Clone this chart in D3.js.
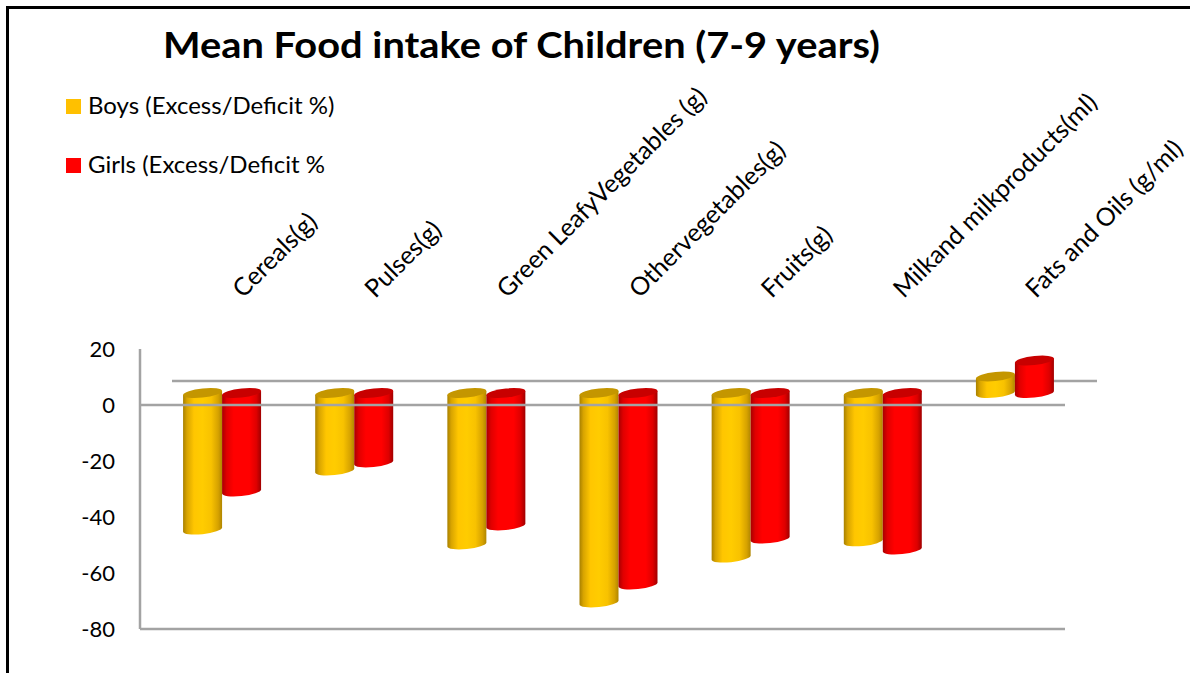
<!DOCTYPE html>
<html>
<head>
<meta charset="utf-8">
<script src="https://cdn.jsdelivr.net/npm/d3@7"></script>
<style>
  html, body { margin: 0; padding: 0; background: #fff; }
  svg { display: block; }
  text { font-family: Lato, "Open Sans", sans-serif; fill: #000; }
</style>
</head>
<body>
<svg id="chart" width="1190" height="673"></svg>
<script>
// Food groups shown along the category axis
const categories = [
  "Cereals(g)",
  "Pulses(g)",
  "Green LeafyVegetables (g)",
  "Othervegetables(g)",
  "Fruits(g)",
  "Milkand milkproducts(ml)",
  "Fats and Oils (g/ml)"
];
// Excess / deficit of intake, percent
const boysValues  = [-48.8, -27.7, -54.1, -74.8, -58.8, -53.0, 5.9];
const girlsValues = [-35.2, -24.8, -47.3, -68.4, -52.0, -55.9, 11.6];
const seriesNames = ["Boys (Excess/Deficit %)", "Girls (Excess/Deficit %"];
const yTickValues = [20, 0, -20, -40, -60, -80];
const titleText = "Mean Food intake of Children (7-9 years)";

const svg = d3.select("#chart");

// frame around the chart area
svg.append("rect")
  .attr("x", 7.5).attr("y", 7.5)
  .attr("width", 1300).attr("height", 800)
  .attr("fill", "none").attr("stroke", "#000").attr("stroke-width", 3);

// scales for the front plane of the 3D box
const plot = { left: 140, right: 1065, top: 349, bottom: 629 };
const y = d3.scaleLinear().domain([-80, 20]).range([plot.bottom, plot.top]);
const x = d3.scaleBand().domain(categories).range([plot.left, plot.right]);
const depth = { dx: 32, dy: -24 };       // offset from front plane to back wall
const mid = { dx: depth.dx / 2, dy: depth.dy / 2 }; // bars stand at mid depth

const grey = "#a3a3a3";

// gradients for cylinder bodies
const defs = svg.append("defs");
function cylGradient(id, stops) {
  const g = defs.append("linearGradient").attr("id", id)
    .attr("x1", 0).attr("x2", 1).attr("y1", 0).attr("y2", 0);
  stops.forEach(([o, c]) => g.append("stop").attr("offset", o).attr("stop-color", c));
}
cylGradient("gBoys", [[0, "#a88000"], [0.1, "#d8a400"], [0.28, "#ffc600"], [0.5, "#ffcc00"],
  [0.72, "#f8c200"], [0.9, "#d6a200"], [1, "#b08600"]]);
cylGradient("gGirls", [[0, "#a80000"], [0.12, "#e00000"], [0.3, "#ff0000"], [0.7, "#ff0000"],
  [0.88, "#de0000"], [1, "#a00000"]]);

const series = [
  { name: seriesNames[0], values: boysValues, body: "url(#gBoys)", cap: "#c49600", swatch: "#ffc000", side: -1 },
  { name: seriesNames[1], values: girlsValues, body: "url(#gGirls)", cap: "#c80000", swatch: "#ff0000", side: 1 }
];

// back-wall zero line (behind the bars)
svg.append("line")
  .attr("x1", plot.left + depth.dx).attr("x2", plot.right + depth.dx)
  .attr("y1", y(0) + depth.dy).attr("y2", y(0) + depth.dy)
  .attr("stroke", grey).attr("stroke-width", 2.5);

// cylinders
const barW = 39, rx = barW / 2, ry = 4.5;
const barsG = svg.append("g");
series.forEach(s => {
  categories.forEach((c, i) => {
    const v = s.values[i];
    const cx = x(c) + x.bandwidth() / 2 + mid.dx + s.side * rx;
    const y0 = y(0) + mid.dy, y1 = y(v) + mid.dy;
    const top = Math.min(y0, y1), bot = Math.max(y0, y1);
    const g = barsG.append("g")
      .attr("transform", `translate(${cx},0) skewY(-6)`);
    g.append("path")
      .attr("d", `M${-rx},${top} L${-rx},${bot} A${rx},${ry} 0 0 0 ${rx},${bot} L${rx},${top} Z`)
      .attr("fill", s.body);
    g.append("ellipse")
      .attr("cx", 0).attr("cy", top).attr("rx", rx).attr("ry", ry)
      .attr("fill", s.cap);
  });
});

// front-plane axis lines
svg.append("line")
  .attr("x1", plot.left).attr("x2", plot.right)
  .attr("y1", y(0)).attr("y2", y(0))
  .attr("stroke", grey).attr("stroke-width", 2.5);
svg.append("line")
  .attr("x1", plot.left).attr("x2", plot.right)
  .attr("y1", y(-80)).attr("y2", y(-80))
  .attr("stroke", grey).attr("stroke-width", 2.5);
svg.append("line")
  .attr("x1", plot.left).attr("x2", plot.left)
  .attr("y1", y(20)).attr("y2", y(-80))
  .attr("stroke", grey).attr("stroke-width", 2.5);

// value axis labels
const yAxis = svg.append("g")
  .attr("transform", `translate(${plot.left},0)`)
  .call(d3.axisLeft(y).tickValues(yTickValues).tickSize(0).tickPadding(25).tickFormat(d3.format("d")));
yAxis.select(".domain").remove();
yAxis.selectAll("text")
  .style("font-family", "Lato, sans-serif")
  .style("font-size", "22px")
  .attr("fill", "#000")
  .text(d => d < 0 ? "-" + Math.abs(d) : d);

// category labels, rotated above the plot
const xAxis = svg.append("g")
  .attr("transform", "translate(0,298)")
  .call(d3.axisTop(x).tickSize(0));
xAxis.select(".domain").remove();
xAxis.selectAll("text")
  .attr("x", 0).attr("y", 0).attr("dy", 0)
  .attr("text-anchor", "start")
  .attr("transform", "translate(37,1) rotate(-45)")
  .style("font-family", "Lato, sans-serif")
  .style("font-size", "25px")
  .attr("fill", "#000");

// title
svg.append("text")
  .attr("x", 163).attr("y", 58)
  .attr("textLength", 717).attr("lengthAdjust", "spacingAndGlyphs")
  .style("font-size", "37px").style("font-weight", 700)
  .text(titleText);

// legend
const legend = svg.append("g");
series.forEach((s, i) => {
  const ly = 99 + i * 59;
  legend.append("rect")
    .attr("x", 66).attr("y", ly).attr("width", 15).attr("height", 15)
    .attr("fill", s.swatch);
  legend.append("text")
    .attr("x", 88).attr("y", ly + 15)
    .style("font-size", "24px")
    .text(s.name);
});
</script>
</body>
</html>
